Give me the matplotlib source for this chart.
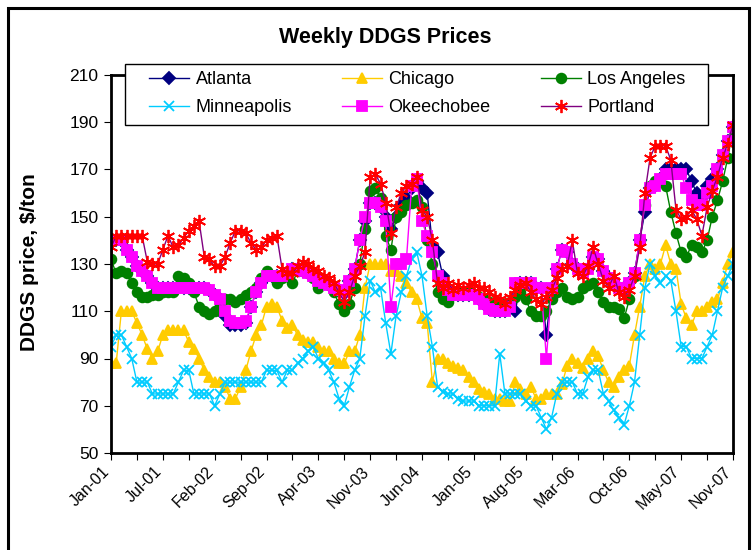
import numpy as np
import pandas as pd
import matplotlib
matplotlib.use("Agg")
import matplotlib.pyplot as plt
from matplotlib.patches import Rectangle
from matplotlib.transforms import ScaledTranslation

plt.rcParams["font.family"] = ["Liberation Sans", "DejaVu Sans"]

# -------------------------------------------------
# Data: weekly DDGS prices ($/ton), read every third week
# -------------------------------------------------
dates = pd.date_range("2001-01-02", periods=121, freq="21D")

atlanta = [
    140, 140, 140, 136, 133, 129, 127, 125, 122, 120,
    120, 120, 120, 120, 120, 120, 120, 120, 120, 119,
    117, 115, 108, 104, 104, 104, 105, 112, 118, 122,
    125, 125, 125, 125, 126, 128, 128, 127, 126, 125,
    123, 122, 121, 120, 119, 118, 123, 128, 140, 148,
    156, 156, 154, 150, 145, 150, 155, 158, 162, 165,
    162, 160, 138, 135, 125, 120, 117, 117, 117, 117,
    117, 115, 113, 111, 110, 110, 110, 112, 110, 122,
    122, 122, 120, 120, 100, 120, 128, 136, 135, 130,
    128, 126, 128, 133, 132, 127, 124, 122, 120, 120,
    122, 126, 140, 152, 162, 163, 166, 170, 170, 170,
    170, 170, 165, 160, 158, 163, 166, 170, 176, 182, 188,
]
chicago = [
    88, 88, 110, 110, 110, 105, 100, 94, 90, 93,
    100, 102, 102, 102, 102, 97, 94, 90, 85, 82,
    80, 80, 78, 73, 73, 78, 85, 93, 100, 104,
    112, 113, 112, 106, 103, 104, 100, 98, 97, 97,
    95, 93, 93, 90, 88, 88, 93, 93, 100, 120,
    130, 130, 130, 130, 127, 127, 125, 122, 118, 115,
    107, 105, 80, 90, 90, 88, 87, 86, 85, 82,
    80, 77, 76, 75, 73, 73, 72, 72, 80, 77,
    75, 78, 73, 73, 75, 75, 75, 79, 87, 90,
    88, 86, 90, 93, 91, 85, 80, 78, 82, 85,
    87, 100, 112, 125, 130, 128, 130, 138, 130, 128,
    113, 107, 104, 110, 110, 112, 114, 115, 122, 130, 135,
]
los_angeles = [
    132, 126, 127, 126, 122, 118, 116, 116, 117, 117,
    118, 118, 118, 125, 124, 122, 118, 112, 110, 109,
    110, 113, 115, 115, 114, 115, 117, 118, 120, 124,
    127, 125, 122, 124, 125, 122, 127, 128, 126, 124,
    120, 122, 121, 118, 113, 110, 113, 120, 130, 145,
    161, 162, 158, 142, 136, 150, 152, 155, 156, 157,
    154, 140, 130, 118, 115, 114, 118, 118, 118, 118,
    117, 116, 115, 114, 114, 113, 113, 114, 116, 118,
    115, 110, 108, 108, 110, 115, 118, 120, 116, 115,
    116, 120, 121, 122, 118, 114, 112, 112, 111, 107,
    115, 125, 140, 155, 163, 165, 166, 163, 152, 143,
    135, 133, 138, 137, 135, 140, 150, 157, 165, 175, 187,
]
minneapolis = [
    95, 100, 100, 95, 90, 80, 80, 80, 75, 75,
    75, 75, 75, 80, 85, 85, 75, 75, 75, 75,
    70, 75, 80, 80, 80, 80, 80, 80, 80, 80,
    85, 85, 85, 80, 85, 85, 88, 90, 93, 95,
    90, 88, 85, 80, 73, 70, 78, 85, 90, 108,
    123, 118, 120, 105, 92, 108, 118, 125, 132, 135,
    125, 108, 95, 78, 76, 75, 75, 73, 72, 72,
    72, 70, 70, 70, 70, 92, 75, 75, 75, 75,
    72, 70, 70, 65, 60, 65, 75, 80, 80, 80,
    75, 75, 82, 85, 85, 75, 72, 68, 65, 62,
    70, 80, 100, 120, 130, 125, 122, 125, 123, 110,
    95, 95, 90, 90, 90, 95, 100, 110, 120, 125, 130,
]
okeechobee = [
    140, 140, 140, 136, 133, 129, 127, 125, 122, 120,
    120, 120, 120, 120, 120, 120, 120, 120, 120, 119,
    117, 115, 110, 106, 105, 105, 106, 112, 118, 122,
    125, 125, 125, 125, 126, 128, 128, 127, 126, 125,
    123, 122, 121, 120, 119, 118, 123, 128, 140, 150,
    156, 156, 154, 148, 112, 130, 130, 132, 163, 166,
    148, 142, 135, 125, 122, 119, 117, 117, 117, 117,
    117, 115, 113, 111, 110, 110, 110, 112, 122, 122,
    122, 122, 120, 120, 90, 120, 128, 136, 135, 130,
    128, 126, 128, 133, 132, 127, 124, 122, 120, 120,
    122, 126, 140, 155, 162, 163, 166, 168, 168, 168,
    168, 162, 157, 155, 155, 160, 163, 170, 176, 182, 188,
]
portland = [
    137, 142, 142, 142, 142, 142, 142, 131, 130, 130,
    136, 142, 137, 138, 141, 144, 146, 148, 133, 132,
    129, 129, 133, 139, 144, 144, 143, 139, 136, 137,
    140, 141, 142, 128, 126, 126, 129, 131, 130, 128,
    127, 125, 124, 122, 118, 114, 118, 125, 129, 135,
    167, 168, 164, 156, 143, 154, 160, 163, 164, 167,
    153, 150, 140, 122, 120, 122, 119, 121, 120, 121,
    122, 120, 120, 118, 116, 115, 113, 116, 119, 121,
    122, 118, 115, 113, 116, 119, 124, 128, 129, 140,
    126, 125, 129, 137, 130, 123, 120, 125, 118, 116,
    119, 125, 137, 160, 175, 180, 180, 180, 174, 153,
    149, 150, 153, 149, 142, 154, 161, 167, 175, 181, 189,
]

# name, values, line colour, marker colour, marker, marker size
series = [
    ("Atlanta", atlanta, "#000080", "#000080", "D", 6),
    ("Chicago", chicago, "#FFCC00", "#FFCC00", "^", 7.5),
    ("Los Angeles", los_angeles, "#008000", "#008000", "o", 7),
    ("Minneapolis", minneapolis, "#00CCFF", "#00CCFF", "x", 7),
    ("Okeechobee", okeechobee, "#FF00FF", "#FF00FF", "s", 7),
    ("Portland", portland, "#800080", "#FF0000", (6, 2, 0), 9.5),
]

# -------------------------------------------------
# Figure
# -------------------------------------------------
fig = plt.figure(figsize=(7.52, 5.5), dpi=100)
ax = fig.add_axes([111 / 752, 1 - 453 / 550, 622 / 752, 378 / 550])

handles = {}
for name, vals, lcol, mcol, mk, ms in series:
    (h,) = ax.plot(dates, vals, color=lcol, lw=1, marker=mk, ms=ms,
                   mfc=mcol, mec=mcol, mew=1.3, label=name)
    handles[name] = h

ax.set_ylim(50, 210)
ax.set_yticks(np.arange(50, 211, 20))
ax.set_xlim(dates[0], dates[-1])

tick_dates = pd.date_range("2001-01-02", periods=25, freq="105D")
tick_labels = [d.strftime("%b-%y") if k % 2 == 0 else "" for k, d in enumerate(tick_dates)]
ax.set_xticks(tick_dates)
ax.set_xticklabels(tick_labels, rotation=45, ha="right", va="top",
                   rotation_mode="anchor", fontsize=11.5)
ax.tick_params(axis="y", labelsize=12.5, length=5, width=0.8, pad=4)
ax.tick_params(axis="x", length=5, width=0.8, pad=5)
for sp in ax.spines.values():
    sp.set_linewidth(2)

# nudge the slanted labels so they end just left of their tick, as in Excel
# (done after tick_params, which resets the label transforms)
shift = ScaledTranslation(-0.09, 0.03, fig.dpi_scale_trans)
for lab in ax.get_xticklabels():
    lab.set_transform(lab.get_transform() + shift)

fig.text(385 / 752, 1 - 38 / 550, "Weekly DDGS Prices", ha="center", va="center",
         fontsize=15.5, fontweight="bold")
fig.text(30 / 752, 1 - 262 / 550, "DDGS price, $/ton", ha="center", va="center",
         rotation=90, fontsize=15, fontweight="bold")

# legend box overlapping the top of the plot
fig.patches.append(Rectangle((125 / 752, 1 - 125 / 550), 583 / 752, 61 / 550,
                             transform=fig.transFigure, facecolor="white",
                             edgecolor="black", lw=1, zorder=3))
order = ["Atlanta", "Minneapolis", "Chicago", "Okeechobee", "Los Angeles", "Portland"]
fig.legend([handles[n] for n in order], order, ncol=3, frameon=False,
           loc="upper left", bbox_to_anchor=(135 / 752, 1 - 57 / 550),
           fontsize=13, handlelength=2.2, handletextpad=0.35,
           columnspacing=2.8, labelspacing=0.6, borderpad=0.3)

# outer chart-area border
fig.patches.append(Rectangle((8 / 752, -0.05), 741 / 752, 1.05 - 8 / 550,
                             transform=fig.transFigure, fill=False,
                             edgecolor="black", lw=2.2, zorder=4))

fig.savefig("out.png", dpi=100)
